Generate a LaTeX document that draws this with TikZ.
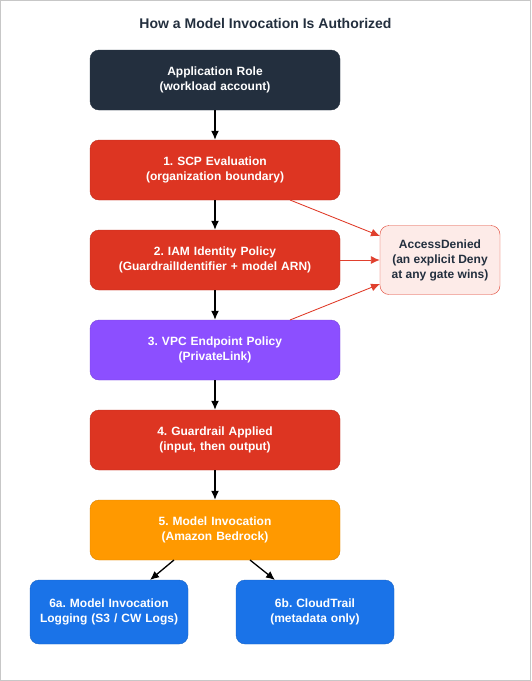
\documentclass[tikz,border=0pt]{standalone}
\usepackage{fontspec}
\setmainfont{Liberation Sans}
\frenchspacing
\usetikzlibrary{arrows.meta}
\definecolor{navy}{HTML}{232F3E}
\definecolor{gatered}{HTML}{DD3522}
\definecolor{vpcpurple}{HTML}{8C4FFF}
\definecolor{bedrockorange}{HTML}{FF9900}
\definecolor{logblue}{HTML}{1A73E8}
\definecolor{denyfill}{HTML}{FDEBE8}
\definecolor{denyline}{HTML}{E0402E}
\begin{document}
\begin{tikzpicture}[x=1pt, y=-1pt, >={Latex[length=9pt,width=8pt]},
    box/.style={rounded corners=9pt, minimum height=60pt, text width=230pt,
      align=center, font=\fontsize{12}{15}\selectfont\bfseries, text=white},
    gate/.style={box, fill=gatered, draw=gatered!85!black, minimum width=250pt},
    logbox/.style={box, fill=logblue, draw=logblue!85!black, minimum width=158pt,
      text width=150pt, minimum height=64pt},
    flow/.style={->, line width=1.3pt, black},
    deny/.style={->, line width=0.9pt, denyline}]
    \useasboundingbox (0,0) rectangle (531,681);
    \draw[black!22] (0.5,0.5) rectangle (530.5,680.5);
    \node[font=\fontsize{14}{16}\selectfont\bfseries, text=navy] (title) at (265.5,23)
      {How a Model Invocation Is Authorized};
    % main column
    \node[box, fill=navy, draw=navy, minimum width=250pt] (role) at (215,80)
      {Application Role\\(workload account)};
    \node[gate] (scp) at (215,170) {1. SCP Evaluation\\(organization boundary)};
    \node[gate] (iam) at (215,260) {2. IAM Identity Policy\\(GuardrailIdentifier + model ARN)};
    \node[box, fill=vpcpurple, draw=vpcpurple!85!black, minimum width=250pt] (vpce) at (215,350)
      {3. VPC Endpoint Policy\\(PrivateLink)};
    \node[gate] (guard) at (215,440) {4. Guardrail Applied\\(input, then output)};
    \node[box, fill=bedrockorange, draw=bedrockorange!85!black, minimum width=250pt] (invoke) at (215,530)
      {5. Model Invocation\\(Amazon Bedrock)};
    % logging
    \node[logbox] (mil) at (109,612) {6a. Model Invocation\\Logging (S3 / CW Logs)};
    \node[logbox] (trail) at (315,612) {6b. CloudTrail\\(metadata only)};
    % deny
    \node[rounded corners=9pt, fill=denyfill, draw=denyline, minimum width=120pt,
      minimum height=69pt, align=center, text=navy,
      font=\fontsize{12}{15}\selectfont\bfseries] (denied) at (440,260)
      {AccessDenied\\(an explicit Deny\\at any gate wins)};
    \coordinate (inv a) at (174,560);
    \coordinate (inv b) at (250,560);
    \coordinate (mil in) at (150,580);
    \coordinate (trail in) at (275,580);
    \coordinate (scp out) at (290,200);
    \coordinate (vpce out) at (290,320);
    \coordinate (deny a) at (380,236);
    \coordinate (deny c) at (380,284);
    \draw[flow] (role) -- (scp);
    \draw[flow] (scp) -- (iam);
    \draw[flow] (iam) -- (vpce);
    \draw[flow] (vpce) -- (guard);
    \draw[flow] (guard) -- (invoke);
    \draw[flow] (inv a) -- (mil in);
    \draw[flow] (inv b) -- (trail in);
    \draw[deny] (scp out) -- (deny a);
    \draw[deny] (iam) -- (denied);
    \draw[deny] (vpce out) -- (deny c);
\end{tikzpicture}
\end{document}
